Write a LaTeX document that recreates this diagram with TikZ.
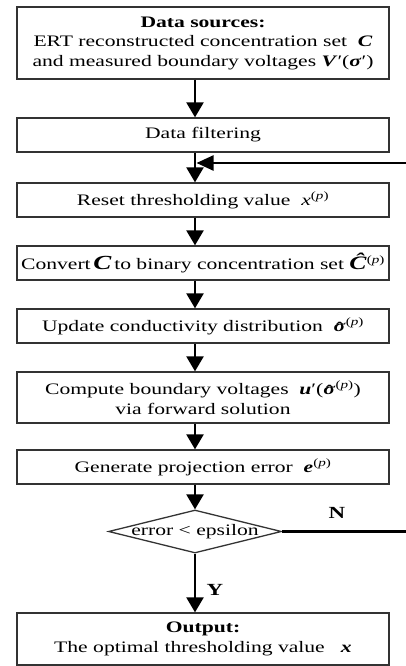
\documentclass[tikz,border=0pt]{standalone}
\usepackage{fontspec}
\setmainfont[FakeStretch=1.35]{Liberation Serif}
\usetikzlibrary{arrows.meta,shapes.geometric}

% bold italic symbols, a hat over one, and the (p) superscript
\newcommand{\bi}[1]{\textbf{\textit{#1}}}
\newcommand{\hatsig}{\ooalign{\bi{σ}\cr\hidewidth\raisebox{-0.25ex}{\bfseries ˆ}\hidewidth\cr}}
\newcommand{\pp}{\textsuperscript{(\textit{p})}}

\begin{document}
\begin{tikzpicture}[x=1pt,y=-1pt,
    stepbox/.style={draw=black!80, line width=1.3pt, minimum width=372pt,
        inner sep=0pt, align=center, font=\fontsize{16}{19.5}\selectfont},
    decision/.style={diamond, draw=black!80, line width=1.3pt, inner sep=0pt,
        minimum width=173pt, minimum height=43pt, font=\fontsize{16}{19.5}\selectfont},
    flow/.style={line width=2.4pt, -{Triangle[width=17pt,length=15pt]}},
    lbl/.style={font=\fontsize{17}{17}\selectfont\bfseries}]
    \useasboundingbox (0,0) rectangle (406,666);

    % column the arrows run down
    \coordinate (spine) at (195,0);

    % the boxes, top to bottom
    \node[stepbox, minimum height=72pt] (src) at (203,43)
        {\textbf{Data sources:}\\
         ERT reconstructed concentration set \ \bi{C}\\
         and measured boundary voltages \bi{V}′(\bi{σ}′)};
    \node[stepbox, minimum height=34pt] (filt) at (203,135) {Data filtering};
    \node[stepbox, minimum height=34pt] (reset) at (203,200)
        {Reset thresholding value \ \textit{x}\pp};
    \node[stepbox, minimum height=34pt] (conv) at (203,263)
        {Convert\,{\fontsize{20}{20}\selectfont\bi{C}}\,to binary concentration set
         {\fontsize{19}{20}\selectfont\bi{Ĉ}}\pp};
    \node[stepbox, minimum height=34pt] (upd) at (203,326)
        {Update conductivity distribution \ \hatsig\pp};
    \node[stepbox, minimum height=51pt] (comp) at (203,397.5)
        {Compute boundary voltages \ \bi{u}′(\hatsig\pp)\\
         via forward solution};
    \node[stepbox, minimum height=34pt] (gen) at (203,467)
        {Generate projection error \ \bi{e}\pp};
    \node[decision] (chk) at (195,531.5) {\makebox[0pt]{error < epsilon}};
    \node[stepbox, minimum height=52pt] (out) at (203,639)
        {\textbf{Output:}\\
         The optimal thresholding value \ \ \bi{x}};

    % arrows between the steps
    \draw[flow] (src.south -| spine) -- (filt.north -| spine);
    \draw[flow] (filt.south -| spine) -- (reset.north -| spine);
    \draw[flow] (reset.south -| spine) -- (conv.north -| spine);
    \draw[flow] (conv.south -| spine) -- (upd.north -| spine);
    \draw[flow] (upd.south -| spine) -- (comp.north -| spine);
    \draw[flow] (comp.south -| spine) -- (gen.north -| spine);
    \draw[flow] (gen.south -| spine) -- (chk.north);
    \draw[flow] (chk.south) -- (out.north -| spine);

    % loop back when the error is too large
    \coordinate (loopR) at (410,531.5);
    \coordinate (loopin) at (196.5,163);
    \draw[flow, -{Triangle[width=15pt,length=17pt]}] (chk.east) -- (loopR) |- (loopin);

    % branch labels
    \node[lbl] (yes) at (215,590) {Y};
    \node[lbl] (no) at (337,513) {N};
\end{tikzpicture}
\end{document}
